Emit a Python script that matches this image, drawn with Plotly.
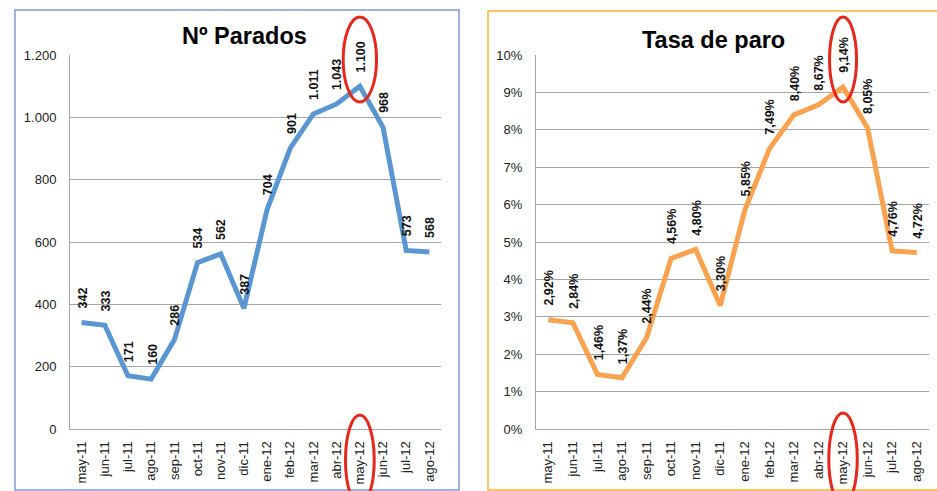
import plotly.graph_objects as go

months = ["may-11", "jun-11", "jul-11", "ago-11", "sep-11", "oct-11", "nov-11", "dic-11",
          "ene-12", "feb-12", "mar-12", "abr-12", "may-12", "jun-12", "jul-12", "ago-12"]
parados = [342, 333, 171, 160, 286, 534, 562, 387, 704, 901, 1011, 1043, 1100, 968, 573, 568]
tasa_pct = [2.92, 2.84, 1.46, 1.37, 2.44, 4.56, 4.80, 3.30, 5.85, 7.49, 8.40, 8.67, 9.14, 8.05, 4.76, 4.72]
title_left = "Nº Parados"
title_right = "Tasa de paro"
left_ticks = [0, 200, 400, 600, 800, 1000, 1200]
right_ticks = [v / 100 for v in range(0, 11)]

W, H = 937, 491
BLUE = "#5a96d2"
ORANGE = "#f9a24f"
RED = "#e5281c"
FONT = "Liberation Sans, Arial, sans-serif"

def px(x):
    return x / W

def py(y):
    return 1 - y / H

tasa = [v / 100 for v in tasa_pct]

fig = go.Figure()
fig.add_trace(go.Scatter(x=months, y=parados, mode="lines",
                         line=dict(color=BLUE, width=5), xaxis="x", yaxis="y",
                         hoverinfo="skip", showlegend=False))
fig.add_trace(go.Scatter(x=months, y=tasa, mode="lines",
                         line=dict(color=ORANGE, width=5), xaxis="x2", yaxis="y2",
                         hoverinfo="skip", showlegend=False))

def fmt_int(v):
    return f"{v:,}".replace(",", ".")

def fmt_pct(v):
    return f"{v:.2f}%".replace(".", ",")

annotations = []
for m, v in zip(months, parados):
    annotations.append(dict(x=m, y=v, xref="x", yref="y", text=fmt_int(v), textangle=-90,
                            showarrow=False, xanchor="center", yanchor="bottom", yshift=12,
                            xshift=1, font=dict(family=FONT, size=12.5, color="#111111", weight="bold")))
for m, v, p in zip(months, tasa, tasa_pct):
    annotations.append(dict(x=m, y=v, xref="x2", yref="y2", text=fmt_pct(p), textangle=-90,
                            showarrow=False, xanchor="center", yanchor="bottom", yshift=12,
                            xshift=1, font=dict(family=FONT, size=12.5, color="#111111", weight="bold")))
annotations.append(dict(x=px(244), y=py(36), xref="paper", yref="paper", text=title_left,
                        showarrow=False, xanchor="center", yanchor="middle",
                        font=dict(family=FONT, size=23.5, color="#000000", weight="bold")))
annotations.append(dict(x=px(713), y=py(40), xref="paper", yref="paper", text=title_right,
                        showarrow=False, xanchor="center", yanchor="middle",
                        font=dict(family=FONT, size=23.5, color="#000000", weight="bold")))

imax_l = parados.index(max(parados))
imax_r = tasa.index(max(tasa))

shapes = [
    dict(type="rect", xref="paper", yref="paper", x0=px(15), x1=px(459), y0=py(490), y1=py(10),
         line=dict(color="#8099d6", width=1.5), layer="below"),
    dict(type="rect", xref="paper", yref="paper", x0=px(488), x1=px(940), y0=py(490), y1=py(11),
         line=dict(color="#fbb52e", width=1.5), layer="below"),
    dict(type="circle", xref="x", yref="paper", x0=imax_l - 0.72, x1=imax_l + 0.72,
         y0=py(102), y1=py(17), line=dict(color=RED, width=3)),
    dict(type="circle", xref="x", yref="paper", x0=imax_l - 0.62, x1=imax_l + 0.62,
         y0=py(505), y1=py(415), line=dict(color=RED, width=3)),
    dict(type="circle", xref="x2", yref="paper", x0=imax_r - 0.55, x1=imax_r + 0.55,
         y0=py(102), y1=py(17), line=dict(color=RED, width=3)),
    dict(type="circle", xref="x2", yref="paper", x0=imax_r - 0.58, x1=imax_r + 0.58,
         y0=py(505), y1=py(413), line=dict(color=RED, width=3)),
]

axis_font = dict(family=FONT, size=13, color="#222222")
xcommon = dict(type="category", tickangle=-90, range=[-0.5, 15.5], showgrid=False,
               showline=True, linecolor="#a6a6a6", linewidth=1, ticks="",
               tickfont=axis_font, ticklabelstandoff=6, fixedrange=True, automargin=False)
ycommon = dict(showgrid=True, gridcolor="#a6a6a6", gridwidth=1, showline=True,
               linecolor="#a6a6a6", linewidth=1, ticks="", tickfont=axis_font,
               zeroline=False, ticklabelstandoff=10, fixedrange=True, automargin=False)

fig.update_layout(
    width=W, height=H,
    margin=dict(l=0, r=0, t=0, b=0, pad=0),
    paper_bgcolor="white", plot_bgcolor="white",
    separators=",.",
    xaxis=dict(domain=[px(70), px(441)], anchor="y", **xcommon),
    yaxis=dict(domain=[py(429), py(55)], anchor="x", range=[0, 1200],
               tickvals=left_ticks, tickformat=",d", **ycommon),
    xaxis2=dict(domain=[px(536), px(929)], anchor="y2", **xcommon),
    yaxis2=dict(domain=[py(429), py(55)], anchor="x2", range=[0, 0.1],
                tickvals=right_ticks, tickformat=".0%", **ycommon),
    annotations=annotations,
    shapes=shapes,
    showlegend=False,
)

fig.write_html("out.html",
               config={"displayModeBar": False, "staticPlot": True},
               post_script="document.body.style.margin='0';document.body.style.padding='0';document.body.style.overflow='hidden';")
